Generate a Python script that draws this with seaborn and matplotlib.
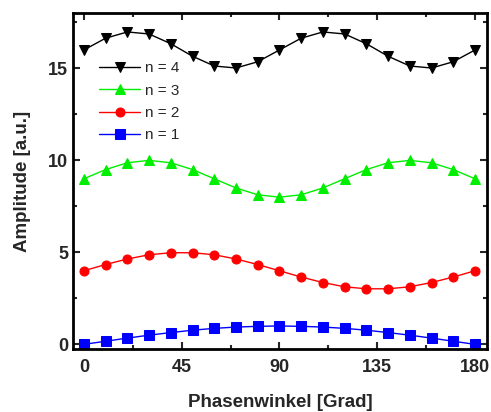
import matplotlib
matplotlib.use("Agg")
import matplotlib.pyplot as plt
import seaborn as sns
import pandas as pd
from matplotlib.ticker import MultipleLocator

phase = [0, 10, 20, 30, 40, 50, 60, 70, 80, 90, 100, 110, 120, 130, 140, 150, 160, 170, 180]
n1 = [0, 0.17, 0.34, 0.5, 0.64, 0.77, 0.87, 0.94, 0.98, 1, 0.98, 0.94, 0.87, 0.77, 0.64, 0.5, 0.34, 0.17, 0]
n2 = [4, 4.34, 4.64, 4.87, 4.98, 4.98, 4.87, 4.64, 4.34, 4, 3.66, 3.36, 3.13, 3.02, 3.02, 3.13, 3.36, 3.66, 4]
n3 = [9, 9.5, 9.87, 10, 9.87, 9.5, 9, 8.5, 8.13, 8, 8.13, 8.5, 9, 9.5, 9.87, 10, 9.87, 9.5, 9]
n4 = [16, 16.64, 16.98, 16.87, 16.34, 15.66, 15.13, 15.02, 15.36, 16, 16.64, 16.98, 16.87, 16.34, 15.66, 15.13, 15.02, 15.36, 16]
labels = ["n = 1", "n = 2", "n = 3", "n = 4"]
x_ticks = [0, 45, 90, 135, 180]
y_ticks = [0, 5, 10, 15]

sns.set_style("ticks")
plt.rcParams["font.family"] = ["Liberation Sans", "DejaVu Sans"]

fig = plt.figure(figsize=(4.91, 4.12), dpi=100)
ax = fig.add_axes([0.1487, 0.153, 0.843, 0.815])

series = [n1, n2, n3, n4]
colors = ["#0000ff", "#ff0000", "#00ee00", "#000000"]
markers = ["s", "o", "^", "v"]
for vals, lab, c, m in zip(series, labels, colors, markers):
    df = pd.DataFrame({"x": phase, "y": vals})
    sns.lineplot(data=df, x="x", y="y", ax=ax, color=c, marker=m, markersize=6.5,
                 markeredgecolor=c, linewidth=1, label=lab)

h, l = ax.get_legend_handles_labels()
leg = ax.legend(h[::-1], l[::-1], loc="upper left", bbox_to_anchor=(0.03, 0.898),
                frameon=False, fontsize=11, handlelength=2.7, labelspacing=0.55,
                handletextpad=0.3)

ax.set_xlim(-5, 185.5)
ax.set_ylim(-0.25, 18)
ax.set_xticks(x_ticks)
ax.set_yticks(y_ticks)
ax.xaxis.set_minor_locator(MultipleLocator(22.5))
ax.yaxis.set_minor_locator(MultipleLocator(2.5))
ax.tick_params(which="both", direction="in", top=True, right=True, width=1.5)
ax.tick_params(which="major", length=5, labelsize=13)
ax.tick_params(axis="x", which="major", pad=7)
ax.tick_params(which="minor", length=3)
for t in ax.get_xticklabels() + ax.get_yticklabels():
    t.set_fontweight("bold")
for s in ax.spines.values():
    s.set_linewidth(2)
    s.set_color("black")
ax.set_xlabel("Phasenwinkel [Grad]", fontsize=13.5, fontweight="bold", labelpad=13)
ax.set_ylabel("Amplitude [a.u.]", fontsize=13.5, fontweight="bold", labelpad=12)

fig.savefig("out.png", dpi=100)
